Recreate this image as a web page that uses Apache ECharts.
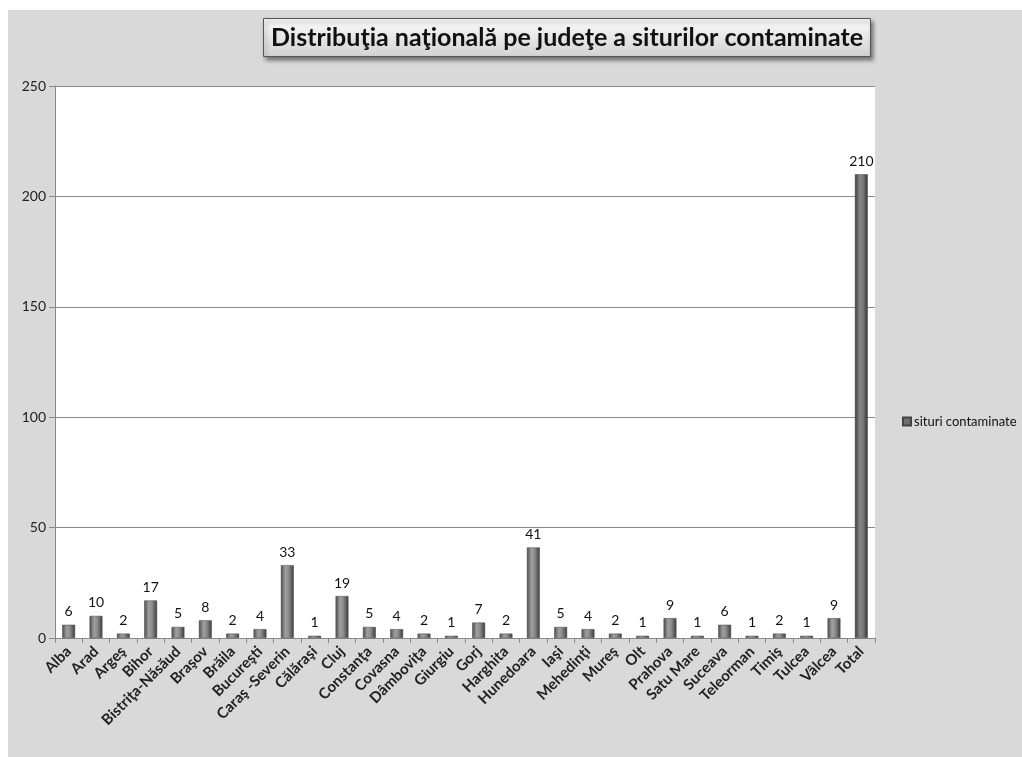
<!DOCTYPE html>
<html>
<head>
<meta charset="utf-8">
<script src="https://cdn.jsdelivr.net/npm/echarts@6/dist/echarts.min.js"></script>
<style>html,body{margin:0;padding:0;background:#fff;}#c{width:1022px;height:757px;}</style>
</head>
<body>
<div id="c"></div>
<script>
const categories = ['Alba','Arad','Argeş','Bihor','Bistriţa-Năsăud','Braşov','Brăila','Bucureşti','Caraş -Severin','Călăraşi','Cluj','Constanţa','Covasna','Dâmboviţa','Giurgiu','Gorj','Harghita','Hunedoara','Iaşi','Mehedinţi','Mureş','Olt','Prahova','Satu Mare','Suceava','Teleorman','Timiş','Tulcea','Vâlcea','Total'];
const values = [6,10,2,17,5,8,2,4,33,1,19,5,4,2,1,7,2,41,5,4,2,1,9,1,6,1,2,1,9,210];
const seriesName = 'situri contaminate';
const titleText = 'Distribuţia naţională pe judeţe a siturilor contaminate';

const FONT = 'Lato, "Open Sans", sans-serif';
const chart = echarts.init(document.getElementById('c'));
const barGrad = new echarts.graphic.LinearGradient(0,0,1,0,[
  {offset:0,color:'#4a4a4a'},{offset:0.35,color:'#a0a0a0'},{offset:0.6,color:'#8c8c8c'},{offset:1,color:'#3c3c3c'}
]);
const totalGrad = new echarts.graphic.LinearGradient(0,0,1,0,[
  {offset:0,color:'#3e3e3e'},{offset:0.4,color:'#878787'},{offset:0.65,color:'#767676'},{offset:1,color:'#333'}
]);
chart.setOption({
  backgroundColor:'#ffffff',
  animation:false,
  graphic:[{type:'rect',z:-10,silent:true,shape:{x:8,y:10,width:1014,height:747},style:{fill:'#d9d9d9'}}],
  title:{
    text:titleText,
    left:263, top:18,
    padding:[7,8,7,8],
    backgroundColor:new echarts.graphic.LinearGradient(0,0,0,1,[{offset:0,color:'#fbfbfb'},{offset:1,color:'#d2d2d2'}]),
    borderColor:'#555', borderWidth:1,
    shadowColor:'rgba(0,0,0,0.45)', shadowBlur:4, shadowOffsetX:2, shadowOffsetY:3,
    textStyle:{fontFamily:FONT,fontWeight:'bold',fontSize:25,color:'#111'}
  },
  legend:{
    orient:'vertical', left:897, top:410,
    itemWidth:8, itemHeight:8, itemGap:4,
    icon:'rect',
    textStyle:{fontFamily:FONT,fontSize:13,color:'#111',padding:[0,0,0,-2]},
    data:[seriesName]
  },
  grid:{left:55,right:147,top:86,bottom:119,show:true,backgroundColor:'#ffffff',borderWidth:0},
  xAxis:{
    type:'category', data:categories,
    axisLine:{lineStyle:{color:'#888',width:1}},
    axisTick:{show:true,alignWithLabel:false,length:5,lineStyle:{color:'#888'}},
    axisLabel:{rotate:45,interval:0,margin:11,fontFamily:FONT,fontSize:15,fontWeight:'bold',color:'#222'}
  },
  yAxis:{
    type:'value', min:0, max:250, interval:50,
    axisLine:{show:true,lineStyle:{color:'#888'}},
    axisTick:{show:true,length:6,lineStyle:{color:'#888'}},
    axisLabel:{fontFamily:FONT,fontSize:14,color:'#222',margin:9},
    splitLine:{lineStyle:{color:'#8a8a8a',width:1}}
  },
  series:[{
    name:seriesName, type:'bar', data:values.map((v,i)=>({value:v,itemStyle:{color:i===values.length-1?totalGrad:barGrad}})),
    barWidth:'47%',
    itemStyle:{color:'#6e6e6e',borderColor:'#444',borderWidth:0.5},
    label:{show:true,position:'top',distance:6,fontFamily:FONT,fontSize:14,color:'#111'}
  }]
});
</script>
</body>
</html>
